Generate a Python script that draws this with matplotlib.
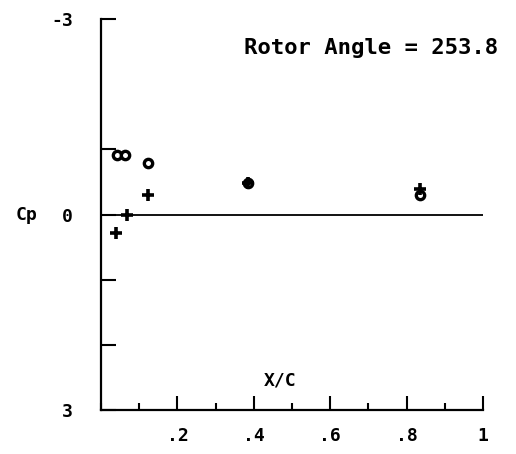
import matplotlib
matplotlib.use("Agg")
import matplotlib.pyplot as plt
from matplotlib.ticker import MultipleLocator

# pressure coefficient readings along the chord
x_circle = [0.042, 0.064, 0.124, 0.384, 0.834]
cp_circle = [-0.92, -0.92, -0.79, -0.48, -0.30]
x_plus = [0.039, 0.068, 0.124, 0.384, 0.834]
cp_plus = [0.28, 0.0, -0.30, -0.48, -0.39]

x_ticks = [0.2, 0.4, 0.6, 0.8, 1.0]
x_ticklabels = [".2", ".4", ".6", ".8", "1"]
y_ticks = [-3, 0, 3]
y_ticklabels = ["-3", "0", "3"]
title = "Rotor Angle = 253.8"

plt.rcParams["font.family"] = ["DejaVu Sans Mono"]
plt.rcParams["font.weight"] = "bold"

fig = plt.figure(figsize=(5.16, 4.54), dpi=100)
ax = fig.add_axes([0.1957, 0.097, 0.7403, 0.861])

ax.set_xlim(0, 1)
ax.set_ylim(3, -3)

ax.axhline(0, color="black", lw=1.3)
ax.plot(x_circle, cp_circle, linestyle="none", marker="o", ms=6,
        mfc="white", mec="black", mew=2.4)
ax.plot(x_plus, cp_plus, linestyle="none", marker="+", ms=9,
        color="black", mew=2.6)

for side in ["top", "right"]:
    ax.spines[side].set_visible(False)
for side in ["left", "bottom"]:
    ax.spines[side].set_linewidth(1.6)

ax.set_xticks(x_ticks)
ax.set_xticklabels(x_ticklabels)
ax.xaxis.set_minor_locator(MultipleLocator(0.1))
ax.tick_params(axis="x", which="major", direction="in", length=10, width=1.5,
               pad=12, labelsize=13)
ax.tick_params(axis="x", which="minor", direction="in", length=5, width=1.5)

ax.set_yticks(y_ticks)
ax.set_yticklabels(y_ticklabels)
ax.set_yticks([-1, 1, 2], minor=True)
ax.tick_params(axis="y", which="major", direction="in", length=11, width=1.5,
               pad=20, labelsize=13)
ax.tick_params(axis="y", which="minor", direction="in", length=11, width=1.5)

ax.set_ylabel("Cp", rotation=0, fontsize=13, fontweight="bold")
ax.yaxis.set_label_coords(-0.195, 0.5)
ax.yaxis.label.set_verticalalignment("center")

ax.text(0.47, 2.55, "X/C", ha="center", va="center", fontsize=13,
        fontweight="bold")
ax.text(0.708, -2.55, title, ha="center", va="center", fontsize=16,
        fontweight="bold", clip_on=False)

fig.savefig("out.png", dpi=100)
